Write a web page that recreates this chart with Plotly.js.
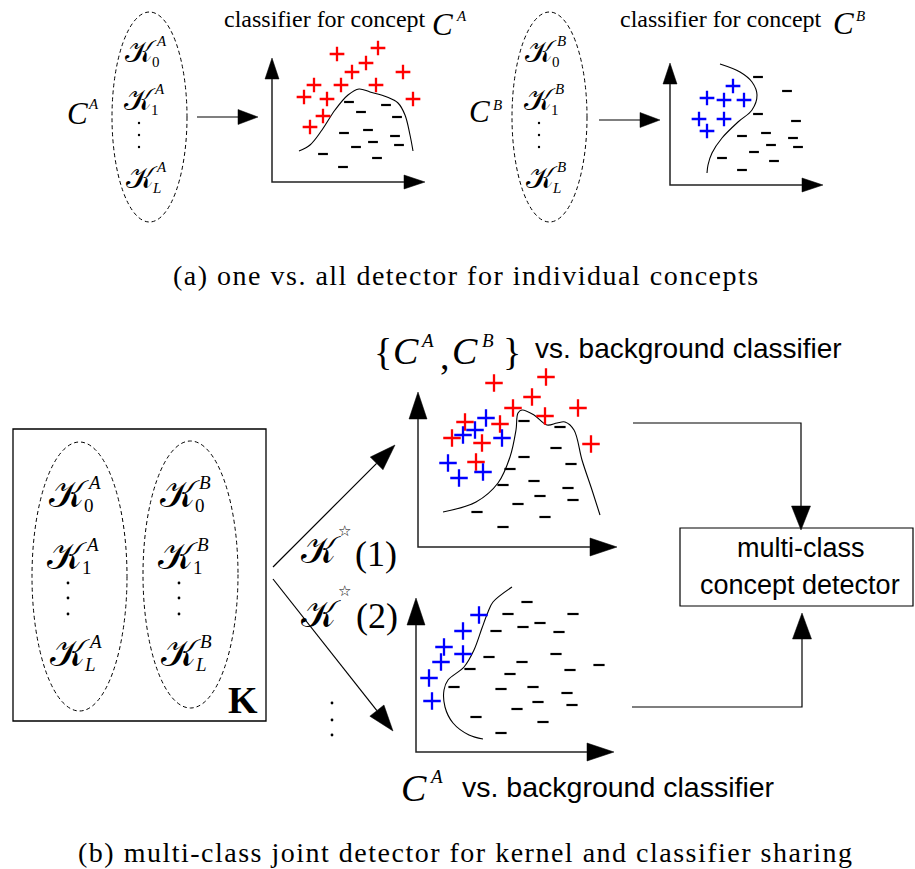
<!DOCTYPE html>
<html>
<head>
<meta charset="utf-8">
<script src="https://cdn.plot.ly/plotly-3.0.1.min.js"></script>
<style>html,body{margin:0;padding:0;background:#fff;}</style>
</head>
<body>
<div id="fig" style="width:915px;height:869px"></div>
<script>
// ---- sample points, measured from each mini plot's axis origin (x right, y up) ----
// (a) one-vs-all classifier for concept A
const ovaA_posX = [65, 106, 94, 80, 131, 42, 69, 104, 32, 55, 141, 51, 38];
const ovaA_posY = [128, 134, 119, 110, 110, 97, 97, 97, 85, 83, 83, 66, 55];
const ovaA_negX = [77, 114, 89, 125, 72, 96, 123, 101, 84, 127, 51, 105, 71];
const ovaA_negY = [80, 77, 70, 65, 49, 52, 46, 40, 35, 37, 28, 24, 15];
const ovaA_boundX = [27, 38, 50, 63, 76, 87, 98, 115, 126, 133, 138, 141];
const ovaA_boundY = [31, 37, 52, 72, 87, 93, 90, 85, 79, 67, 47, 31];

// (a) one-vs-all classifier for concept B
const ovaB_posX = [63, 37, 54, 74, 29, 54, 37];
const ovaB_posY = [99, 87, 85, 85, 66, 66, 54];
const ovaB_negX = [88, 117, 88, 126, 72, 96, 123, 101, 128, 84, 52, 104, 72];
const ovaB_negY = [108, 94, 71, 64, 49, 52, 47, 40, 38, 33, 27, 24, 15];
const ovaB_boundX = [50, 70, 82, 87, 82, 68, 52, 42, 38, 37];
const ovaB_boundY = [121, 113, 103, 90, 75, 63, 47, 32, 20, 12];

// (b) {C^A, C^B} vs. background
const jointA_posX = [76, 128, 114, 95, 127, 160, 47, 82, 34, 64, 173, 58];
const jointA_posY = [164, 170, 150, 139, 131, 139, 125, 123, 109, 104, 103, 85];
const jointB_posX = [68, 57, 45, 84, 30, 65, 41];
const jointB_posY = [129, 117, 112, 109, 84, 75, 69];
const joint_negX = [106, 142, 138, 106, 153, 92, 85, 116, 150, 122, 155, 100, 59, 127, 85];
const joint_negY = [126, 120, 99, 90, 83, 78, 62, 66, 59, 51, 47, 43, 35, 30, 20];
const joint_boundX = [25, 58, 80, 92, 98, 100, 104, 116, 129, 139, 147, 156, 164, 174, 182];
const joint_boundY = [35, 45, 64, 90, 117, 134, 137, 132, 122, 124, 125, 117, 87, 57, 32];

// (b) C^A vs. background
const single_posX = [63, 47, 28, 47, 25, 13, 16];
const single_posY = [137, 121, 105, 98, 90, 74, 51];
const single_negX = [111, 92, 157, 80, 107, 124, 143, 73, 140, 106, 54, 154, 183, 94, 38, 85, 117, 151, 122, 156, 101, 60, 127, 85];
const single_negY = [150, 138, 138, 121, 125, 129, 120, 95, 98, 90, 83, 82, 87, 78, 65, 63, 65, 59, 50, 47, 43, 35, 30, 19];
const single_boundX = [96, 77, 72, 66, 58, 48, 32, 28, 29, 37, 53, 67];
const single_boundY = [165, 150, 140, 124, 102, 85, 72, 62, 45, 29, 17, 13];

// ---- page setup ----
const W = 915, H = 869;
const SERIF = 'Liberation Serif, Times New Roman, serif';
const SANS = 'Liberation Sans, Arial, sans-serif';
const SCRIPT = 'DejaVu Serif, DejaVu Sans, serif';
const KS = '\u{1D4A6}';   // script capital K
const RED = 'rgb(255,0,0)', BLUE = 'rgb(0,0,255)';

const shapes = [];
const annotations = [];
const traces = [];

function T(text, x, y, size, opt) {
  opt = opt || {};
  annotations.push({
    xref: 'x', yref: 'y', x: x, y: y, text: text, showarrow: false,
    xanchor: opt.anchor || 'center', yanchor: 'middle',
    font: { family: opt.family || SERIF, size: size, color: '#000' }
  });
}

function arrowHead(x1, y1, ux, uy, len, wid, xref, yref) {
  const bx = x1 - ux * len, by = y1 - uy * len;
  const px = -uy * wid / 2, py = ux * wid / 2;
  shapes.push({
    type: 'path', xref: xref, yref: yref,
    path: 'M' + x1 + ',' + y1 + ' L' + (bx + px) + ',' + (by + py) + ' L' + (bx - px) + ',' + (by - py) + ' Z',
    fillcolor: '#000', line: { color: '#000', width: 0.5 }
  });
  return [bx, by];
}

// polyline ending in a filled arrowhead, page pixel coordinates
function arrow(pts, len, wid, lw) {
  const n = pts.length;
  const [x0, y0] = pts[n - 2], [x1, y1] = pts[n - 1];
  const L = Math.hypot(x1 - x0, y1 - y0);
  const base = arrowHead(x1, y1, (x1 - x0) / L, (y1 - y0) / L, len, wid, 'x', 'y');
  let path = 'M' + pts[0][0] + ',' + pts[0][1];
  for (let i = 1; i < n - 1; i++) path += ' L' + pts[i][0] + ',' + pts[i][1];
  path += ' L' + base[0] + ',' + base[1];
  shapes.push({ type: 'path', xref: 'x', yref: 'y', path: path, line: { color: '#000', width: lw || 1.2 } });
}

function ellipse(x0, y0, x1, y1) {
  shapes.push({ type: 'circle', xref: 'x', yref: 'y', x0: x0, y0: y0, x1: x1, y1: y1,
    line: { color: '#000', width: 1, dash: '4px,3px' } });
}

function vdots(x, ys, r) {
  ys.forEach(function (y) {
    shapes.push({ type: 'circle', xref: 'x', yref: 'y', x0: x - r, x1: x + r, y0: y - r, y1: y + r,
      fillcolor: '#000', line: { width: 0 } });
  });
}

// script K with subscript and superscript
function kernel(x, y, sub, sup, s, o) {
  T(KS, x, y, s, { family: SCRIPT });
  const italicSub = (sub === 'L');
  T(italicSub ? '<i>' + sub + '</i>' : sub, x + o.subDx, y + o.subDy, o.small, { family: SERIF });
  T('<i>' + sup + '</i>', x + o.supDx, y + o.supDy, o.small, { family: SERIF });
}

// ---- mini scatter plots, each on its own pair of axes ----
const PAD = 20, PW = 205, PH = 180;
const panels = [
  { n: 2, ox: 272, oy: 182, axW: 153, axH: 124, hl: 21, hw: 14 },
  { n: 3, ox: 670, oy: 185, axW: 153, axH: 122, hl: 21, hw: 14 },
  { n: 4, ox: 418, oy: 547, axW: 199, axH: 155, hl: 27, hw: 18 },
  { n: 5, ox: 416, oy: 752, axW: 198, axH: 154, hl: 27, hw: 18 }
];
const layoutAxes = {};
panels.forEach(function (p) {
  layoutAxes['xaxis' + p.n] = {
    domain: [(p.ox - PAD) / W, Math.min(1, (p.ox + PW) / W)], range: [-PAD, Math.min(PW, W - p.ox)],
    anchor: 'y' + p.n, visible: false, fixedrange: true
  };
  layoutAxes['yaxis' + p.n] = {
    domain: [(H - p.oy - PAD) / H, Math.min(1, (H - p.oy + PH) / H)], range: [-PAD, Math.min(PH, p.oy)],
    anchor: 'x' + p.n, visible: false, fixedrange: true
  };
  const xr = 'x' + p.n, yr = 'y' + p.n;
  const vb = arrowHead(0, p.axH, 0, 1, p.hl, p.hw, xr, yr);
  const hb = arrowHead(p.axW, 0, 1, 0, p.hl, p.hw, xr, yr);
  shapes.push({ type: 'path', xref: xr, yref: yr,
    path: 'M0,' + vb[1] + ' L0,0 L' + hb[0] + ',0', line: { color: '#222', width: 1.5 } });
});

function plus(x, y, color, ax, size) {
  traces.push({ type: 'scatter', mode: 'markers', x: x, y: y, xaxis: 'x' + ax, yaxis: 'y' + ax,
    cliponaxis: false, hoverinfo: 'skip',
    marker: { symbol: 'cross-thin', size: size, line: { width: 2.3, color: color } } });
}
function minus(x, y, ax, size) {
  traces.push({ type: 'scatter', mode: 'markers', x: x, y: y, xaxis: 'x' + ax, yaxis: 'y' + ax,
    cliponaxis: false, hoverinfo: 'skip',
    marker: { symbol: 'line-ew', size: size, line: { width: 2.2, color: '#000' } } });
}
function boundary(x, y, ax) {
  traces.push({ type: 'scatter', mode: 'lines', x: x, y: y, xaxis: 'x' + ax, yaxis: 'y' + ax,
    hoverinfo: 'skip', line: { shape: 'spline', width: 1.1, color: '#000' } });
}

boundary(ovaA_boundX, ovaA_boundY, 2);
plus(ovaA_posX, ovaA_posY, RED, 2, 10.5);
minus(ovaA_negX, ovaA_negY, 2, 7);

boundary(ovaB_boundX, ovaB_boundY, 3);
plus(ovaB_posX, ovaB_posY, BLUE, 3, 10.5);
minus(ovaB_negX, ovaB_negY, 3, 7);

boundary(joint_boundX, joint_boundY, 4);
plus(jointA_posX, jointA_posY, RED, 4, 12.5);
plus(jointB_posX, jointB_posY, BLUE, 4, 12.5);
minus(joint_negX, joint_negY, 4, 8);

boundary(single_boundX, single_boundY, 5);
plus(single_posX, single_posY, BLUE, 5, 12.5);
minus(single_negX, single_negY, 5, 8);

// ---- (a) one vs. all ----
const topK = { small: 15, subDx: 15, subDy: 11, supDx: 20, supDy: -10 };
[0, 400].forEach(function (dx, i) {
  const c = i === 0 ? 'A' : 'B';
  ellipse(112 + dx, 12, 187 + dx, 222);
  kernel(141 + dx, 51, '0', c, 30, topK);
  kernel(139.5 + dx, 99, '1', c, 30, topK);
  vdots(139 + dx, [123, 135, 147], 1.2);
  kernel(141.5 + dx, 177, 'L', c, 30, topK);
});
T('<i>C</i>', 77, 113, 31); T('<i>A</i>', 93.5, 104, 15);
T('<i>C</i>', 479.5, 111, 31); T('<i>B</i>', 497.5, 105, 15);
arrow([[197, 117], [258, 117]], 20, 15);
arrow([[599, 120], [660, 120]], 20, 15);
T('classifier for concept', 222, 19, 24, { anchor: 'left' });
T('<i>C</i>', 442.5, 24, 31); T('<i>A</i>', 461, 16, 15);
T('classifier for concept', 618, 19, 24, { anchor: 'left' });
T('<i>C</i>', 843, 23, 31); T('<i>B</i>', 860.5, 15.5, 15);
T('<span style="letter-spacing:1.5px">(a) one vs. all detector for individual concepts</span>', 466.5, 275, 28);

// ---- (b) joint detector ----
shapes.push({ type: 'rect', xref: 'x', yref: 'y', x0: 13, y0: 429, x1: 266, y1: 721, line: { color: '#000', width: 1.3 } });
ellipse(32, 442, 127, 711);
ellipse(143, 441, 238, 708);
const botK = { small: 19, subDx: 20, subDy: 11, supDx: 25, supDy: -12 };
[0, 111].forEach(function (dx, i) {
  const c = i === 0 ? 'A' : 'B';
  kernel(69 + dx, 494, '0', c, 38, botK);
  kernel(67 + dx, 556, '1', c, 38, botK);
  vdots(68 + dx, [583, 598, 614], 1.4);
  kernel(70 + dx, 653, 'L', c, 38, botK);
});
T('<b>K</b>', 243, 700, 38);

arrow([[273, 567], [395, 445]], 26, 18);
arrow([[273, 579], [393, 731]], 26, 18);
T(KS, 321, 550, 38, { family: SCRIPT }); T('\u2606', 344, 531, 15, { family: 'DejaVu Sans' }); T('(1)', 376, 554, 36);
T(KS, 321, 614, 38, { family: SCRIPT }); T('\u2606', 344, 591, 15, { family: 'DejaVu Sans' }); T('(2)', 377, 616, 36);
vdots(332, [703, 720, 735], 1.4);

T('{', 383, 352, 38); T('<i>C</i>', 406, 351, 38); T('<i>A</i>', 427, 340, 19);
T(',', 445, 356, 38); T('<i>C</i>', 465, 351, 38); T('<i>B</i>', 488, 340, 19);
T('}', 512, 352, 38);
T('vs. background classifier', 533, 348, 28, { family: SANS, anchor: 'left' });

T('<i>C</i>', 413.5, 788, 38); T('<i>A</i>', 436, 776, 19);
T('vs. background classifier', 460, 787, 28.5, { family: SANS, anchor: 'left' });

arrow([[633, 423], [801, 423], [801, 530]], 24, 19);
arrow([[632, 707], [802, 707], [802, 613]], 26, 19);
shapes.push({ type: 'rect', xref: 'x', yref: 'y', x0: 680, y0: 528, x1: 913, y1: 606, line: { color: '#000', width: 1.2 } });
T('multi-class', 801, 548, 27, { family: SANS });
T('concept detector', 800, 585, 27, { family: SANS });

T('<span style="letter-spacing:1.5px">(b) multi-class joint detector for kernel and classifier sharing</span>', 465.5, 852, 28);

const layout = Object.assign({
  width: W, height: H, margin: { l: 0, r: 0, t: 0, b: 0 },
  paper_bgcolor: '#fff', plot_bgcolor: 'rgba(0,0,0,0)', showlegend: false,
  xaxis: { domain: [0, 1], range: [0, W], visible: false, fixedrange: true },
  yaxis: { domain: [0, 1], range: [H, 0], visible: false, fixedrange: true },
  shapes: shapes, annotations: annotations
}, layoutAxes);

Plotly.newPlot('fig', traces, layout, { staticPlot: true, displayModeBar: false });
</script>
</body>
</html>
